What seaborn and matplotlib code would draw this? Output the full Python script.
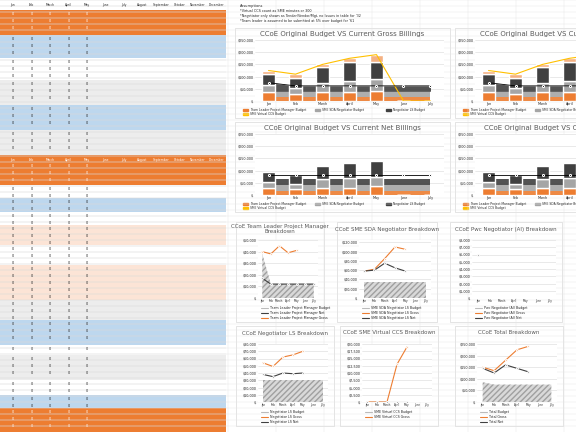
import matplotlib
matplotlib.use("Agg")
import matplotlib.pyplot as plt
import seaborn as sns
import numpy as np
import pandas as pd

sns.set_theme(style="whitegrid")
plt.rcParams['font.family'] = ['DejaVu Sans']

months = ["Jan", "Feb", "March", "April", "May", "June", "July", "August",
          "September", "October", "November", "December"]
m7 = ["Jan", "Feb", "March", "April", "May", "June", "July"]

# gross billings chart (k$)
g_orange = [35, 30, 35, 35, 40, 0, 0]
g_gray = [30, 25, 40, 45, 50, 0, 0]
g_dark = [45, 40, 65, 80, 70, 0, 0]
g_peach = [15, 15, 10, 15, 30, 0, 0]
g_line = [125, 110, 150, 175, 190, 0, 0]
budget_orange = [15, 15, 15, 15, 15, 15, 15]
budget_gray = [25, 25, 25, 25, 25, 25, 25]
budget_dark = [35, 22, 22, 22, 22, 22, 22]
budget_line = [75, 62, 62, 62, 62, 62, 62]

# net billings chart
n_orange = [30, 25, 30, 30, 35, 0, 0]
n_gray = [25, 20, 35, 40, 40, 0, 0]
n_dark = [40, 35, 55, 60, 65, 0, 0]
n_budget_dark = [25, 25, 25, 25, 25, 25, 25]
n_budget_line = [80, 80, 80, 80, 80, 80, 80]

# small charts
tl_budget = [38, 12, 12, 12, 12, 12, 12]
tl_net = [17, 12, 12, 12, 12, 12, 12]
tl_gross = [40, 38, 45, 39, 41]
sme_budget = [35, 35, 35, 35, 35, 35, 35]
sme_gross = [58, 62, 85, 110, 105]
sme_net = [58, 60, 75, 65, 58]
neg_budget = [30, 30, 30, 30, 30, 30, 30]
neg_gross = [54, 49, 62, 65, 70]
neg_net = [38, 35, 40, 39, 40]
vir_gross = [0, 0, 0, 13, 19]
tot_budget = [85, 75, 75, 75, 75, 75, 75]
tot_gross = [150, 135, 180, 225, 240]
tot_net = [145, 125, 160, 145, 130]

W, H = 576, 432
fig = plt.figure(figsize=(5.76, 4.32), dpi=100)
fig.patch.set_facecolor("white")

def ax_px(x, y, w, h):
    return fig.add_axes([x / W, 1 - (y + h) / H, w / W, h / H])

bg = ax_px(0, 0, W, H)
bg.set_xlim(0, W); bg.set_ylim(H, 0); bg.axis("off")
for yy in range(0, H, 6):
    bg.axhline(yy, color="#e4e4e4", lw=0.3)
for xx in range(228, W, 48):
    bg.axvline(xx, color="#e4e4e4", lw=0.3)

bands = [(0, 10, "white"), (10, 35, "#ED7D31"), (35, 58, "#BDD7EE"), (58, 80, "white"),
         (80, 105, "#EDEDED"), (105, 130, "#BDD7EE"), (130, 155, "#EDEDED"),
         (155, 185, "#ED7D31"), (185, 198, "white"), (198, 212, "#BDD7EE"),
         (212, 225, "white"), (225, 245, "#FCE4D6"), (245, 265, "white"),
         (265, 300, "#FCE4D6"), (300, 320, "#EDEDED"), (320, 345, "#BDD7EE"),
         (345, 355, "white"), (355, 380, "#EDEDED"), (380, 395, "white"),
         (395, 408, "#BDD7EE"), (408, 432, "#ED7D31")]
for y0, y1, c in bands:
    bg.add_patch(plt.Rectangle((0, y0), 226, y1 - y0, color=c, lw=0))
for yy in range(0, H, 6):
    bg.plot([0, 226], [yy, yy], color="#d0d0d0", lw=0.2)
colx = [13 + i * 18.5 for i in range(12)]
for i, m in enumerate(months):
    bg.text(colx[i], 5, m, fontsize=2.2, ha="center", va="center")
    bg.text(colx[i], 160, m, fontsize=2.2, ha="center", va="center", color="white")
for y0, y1, c in bands[1:]:
    tc = "white" if c == "#ED7D31" else "#222222"
    start = y0 + 11 if y0 == 155 else y0 + 4
    for yy in np.arange(start, y1 - 1, 7):
        for i in range(5):
            bg.text(colx[i], yy, "0", fontsize=2.4, ha="center", va="center", color=tc)
bg.text(240, 7, "Assumptions", fontsize=2.6)
bg.text(240, 12, "*Virtual CCS count as SME minutes or 300", fontsize=2.4)
bg.text(240, 17, "*Negotiator only shown as Tender/Vendor/Mgt, no Issues in table for '32", fontsize=2.4)
bg.text(240, 22, "*Team leader is assumed to be submitted at 5% over budget for '61", fontsize=2.4)

ORANGE, LGRAY, DGRAY, PEACH, YEL = "#ED7D31", "#A5A5A5", "#404040", "#F4B183", "#FFC000"

def style(ax, ymax):
    ax.set_facecolor("white")
    ax.tick_params(labelsize=2.4, length=0, pad=1)
    ax.set_ylim(0, ymax)
    ax.grid(axis="x", visible=False)
    ax.grid(axis="y", color="#d9d9d9", lw=0.4)
    for s in ax.spines.values():
        s.set_visible(False)
    ax.yaxis.set_major_formatter(matplotlib.ticker.FuncFormatter(
        lambda v, p: f"${v * 1000:,.0f}" if v else "$-"))

def frame(x, y, w, h):
    bg.add_patch(plt.Rectangle((x, y), w, h, fc="white", ec="#d0d0d0", lw=0.4))

def big_chart(x, y, w, title, layers, budgets, line, bline):
    frame(x, y, w, 90)
    ax = ax_px(x + 20, y + 12, w - 26, 61)
    idx = np.arange(7)
    bot = np.zeros(7)
    for vals, col in zip(budgets, [ORANGE, LGRAY, DGRAY]):
        ax.fill_between(idx, bot, bot + np.array(vals), color=col, alpha=0.9, lw=0)
        bot = bot + np.array(vals)
    bot = np.zeros(7)
    for vals, col in zip(layers, [ORANGE, LGRAY, DGRAY, PEACH]):
        ax.bar(idx, vals, bottom=bot, color=col, width=0.45)
        bot = bot + np.array(vals)
    if line is not None:
        sns.lineplot(x=idx, y=line, ax=ax, color=YEL, lw=0.8)
    sns.lineplot(x=idx, y=bline, ax=ax, color="black", lw=0.6, marker="o", markersize=1.5)
    ax.set_xticks(idx); ax.set_xticklabels(m7)
    style(ax, 250)
    ax.set_xlim(-0.5, 6.5)
    labs = ["Team Leader Project Manager Budget", "SME SDA Negotiator Budget",
            "Negotiator LS Budget", "SME Virtual CCS Budget"]
    for i, lab in enumerate(labs):
        lx = x + 8 + (i % 3) * (w / 3)
        ly = y + 82 + (i // 3) * 4
        bg.add_patch(plt.Rectangle((lx, ly - 1), 5, 2, color=[ORANGE, LGRAY, DGRAY, YEL][i],
                                   clip_on=True))
        bg.text(lx + 7, ly, lab, fontsize=2.2, va="center", clip_on=True)
    bg.text(x + w / 2, y + 6, title, fontsize=5, ha="center", va="center", color="#595959",
            clip_on=True)

big_chart(235, 28, 215, "CCoE Original Budget VS Current Gross Billings",
          [g_orange, g_gray, g_dark, g_peach], [budget_orange, budget_gray, budget_dark],
          g_line, budget_line)
big_chart(455, 28, 215, "CCoE Original Budget VS Current Gross Billings",
          [g_orange, g_gray, g_dark, g_peach], [budget_orange, budget_gray, budget_dark],
          g_line, budget_line)
big_chart(235, 122, 215, "CCoE Original Budget VS Current Net Billings",
          [n_orange, n_gray, n_dark], [budget_orange, budget_gray, n_budget_dark],
          None, n_budget_line)
big_chart(455, 122, 215, "CCoE Original Budget VS Current Net Billings",
          [n_orange, n_gray, n_dark], [budget_orange, budget_gray, n_budget_dark],
          None, n_budget_line)

def small_chart(x, y, w, title, budget, gross, net, ymax, legend):
    frame(x, y, w, 100)
    ax = ax_px(x + 22, y + 18, w - 28, 58)
    idx = np.arange(7)
    ax.fill_between(idx, 0, budget, color="#d9d9d9", hatch="//////", edgecolor="#a0a0a0", lw=0)
    if gross is not None:
        sns.lineplot(x=np.arange(len(gross)), y=gross, ax=ax, color=ORANGE, lw=0.8,
                     marker="o", markersize=1.3)
    if net is not None:
        sns.lineplot(x=np.arange(len(net)), y=net, ax=ax, color=DGRAY, lw=0.8,
                     marker="o", markersize=1.3)
    ax.set_xticks(idx); ax.set_xticklabels(m7, fontsize=2.0)
    style(ax, ymax)
    ax.tick_params(axis="x", labelsize=2.0)
    ax.set_xlim(-0.5, 6.5)
    bg.text(x + w / 2, y + 7, title, fontsize=4.0, ha="center", va="center", color="#595959")
    for i, (lab, col) in enumerate(legend):
        bg.plot([x + 25, x + 32], [y + 86 + i * 5] * 2, color=col, lw=0.8)
        bg.text(x + 34, y + 86 + i * 5, lab, fontsize=2.3, va="center")

small_chart(236, 222, 88, "CCoE Team Leader Project Manager\nBreakdown", tl_budget, tl_gross, tl_net, 50,
            [("Team Leader Project Manager Budget", "#bbbbbb"), ("Team Leader Project Manager Net", DGRAY),
             ("Team Leader Project Manager Gross", ORANGE)])
small_chart(337, 222, 100, "CCoE SME SDA Negotiator Breakdown", sme_budget, sme_gross, sme_net, 125,
            [("SME SDA Negotiator LS Budget", "#bbbbbb"), ("SME SDA Negotiator LS Gross", ORANGE),
             ("SME SDA Negotiator LS Net", DGRAY)])
small_chart(450, 222, 112, "CCoE Pwc Negotiator (AI) Breakdown", [0] * 7, [6], [6], 8,
            [("Pwc Negotiator (AI) Budget", "#bbbbbb"), ("Pwc Negotiator (AI) Gross", ORANGE),
             ("Pwc Negotiator (AI) Net", DGRAY)])
small_chart(236, 326, 98, "CCoE Negotiator LS Breakdown", neg_budget, neg_gross, neg_net, 80,
            [("Negotiator LS Budget", "#bbbbbb"), ("Negotiator LS Gross", ORANGE),
             ("Negotiator LS Net", DGRAY)])
small_chart(340, 326, 98, "CCoE SME Virtual CCS Breakdown", [0] * 7, vir_gross, [0, 0, 0, 0, 0], 20,
            [("SME Virtual CCS Budget", "#bbbbbb"), ("SME Virtual CCS Gross", ORANGE)])
small_chart(455, 326, 108, "CCoE Total Breakdown", tot_budget, tot_gross, tot_net, 250,
            [("Total Budget", "#bbbbbb"), ("Total Gross", ORANGE), ("Total Net", DGRAY)])

fig.savefig("out.png", dpi=100)
